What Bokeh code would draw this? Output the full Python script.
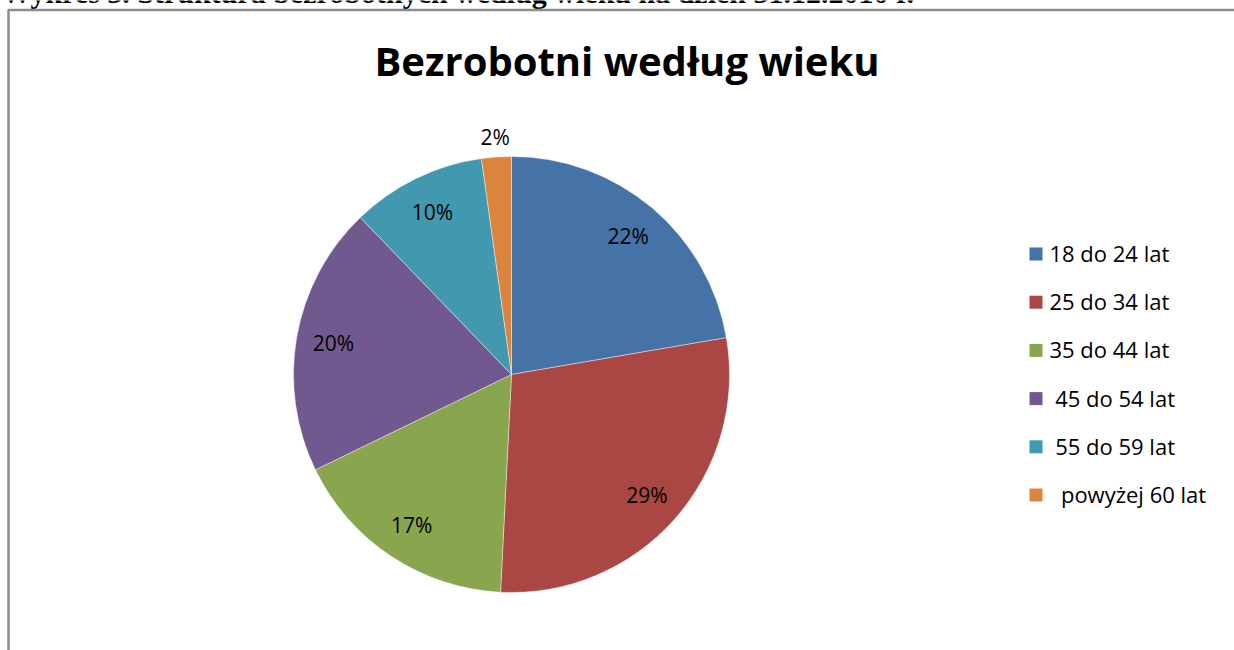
import math
from bokeh.plotting import figure
from bokeh.models import Range1d, ColumnDataSource
from bokeh.core.properties import value
from bokeh.embed import file_html
from bokeh.resources import INLINE

# ---- data ----
categories = ["18 do 24 lat", "25 do 34 lat", "35 do 44 lat",
              " 45 do 54 lat", " 55 do 59 lat", "  powyżej 60 lat"]
shares = [22.3, 28.5, 17.0, 20.0, 10.0, 2.2]
colors = ["#4572A7", "#AA4643", "#89A54E", "#71588F", "#4198AF", "#DB843D"]
title_text = "Bezrobotni według wieku"
caption_text = "Wykres 3. Struktura bezrobotnych według wieku na dzień 31.12.2010 r."

W, H = 1234, 650


def Y(y_img):
    return H - y_img


p = figure(width=W, height=H, output_backend="svg", toolbar_location=None,
           x_range=Range1d(0, W), y_range=Range1d(0, H), min_border=0)
p.axis.visible = False
p.grid.visible = False
p.outline_line_color = None
p.background_fill_color = "white"
p.border_fill_color = "white"

# document caption (cut off at top)
p.text(x=[1], y=[Y(-8)], text=[caption_text], text_font=value("Liberation Serif"),
       text_font_style="bold", text_font_size="30px", text_baseline="middle",
       text_align="left", text_color="black")

# chart frame
p.quad(left=[8], right=[W + 50], top=[Y(9.5)], bottom=[-50], fill_color=None,
       line_color="#8c8c8c", line_width=2.5)

# title
p.text(x=[626.5], y=[Y(60)], text=[title_text], text_font=value("Open Sans"),
       text_font_style="bold", text_font_size="40px", text_baseline="middle",
       text_align="center", text_color="black")

# pie
cx, cy, R = 511, Y(374), 218
total = sum(shares)
starts, ends, lx, ly, labels = [], [], [], [], []
cum = 0.0
for v in shares:
    a0 = math.pi / 2 - 2 * math.pi * cum / total
    cum += v
    a1 = math.pi / 2 - 2 * math.pi * cum / total
    starts.append(a0)
    ends.append(a1)
    mid = (a0 + a1) / 2
    r = 0.83 * R if v / total >= 0.05 else 1.09 * R
    lx.append(cx + r * math.cos(mid))
    ly.append(cy + r * math.sin(mid))
    labels.append(f"{int(v + 0.5)}%")

src = ColumnDataSource(dict(start=starts, end=ends, color=colors))
p.wedge(x=cx, y=cy, radius=R, start_angle="start", end_angle="end",
        direction="clock", fill_color="color", line_color="white",
        line_width=0.6, line_alpha=0.7, source=src)

p.text(x=lx, y=ly, text=labels, text_font=value("Open Sans"),
       text_font_size="21px", text_align="center", text_baseline="middle",
       text_color="black")

# legend
leg_y = [Y(253.5 + 48.2 * i) for i in range(len(categories))]
p.rect(x=[1035.5] * len(categories), y=leg_y, width=13, height=13,
       fill_color=colors, line_color=None)
p.text(x=[1049] * len(categories), y=[v + 1 for v in leg_y],
       text=[c.replace(" ", "\u00a0") for c in categories],
       text_font=value("Open Sans"), text_font_size="22px",
       text_align="left", text_baseline="middle", text_color="black")

open("out.html", "w").write(file_html(p, INLINE))
